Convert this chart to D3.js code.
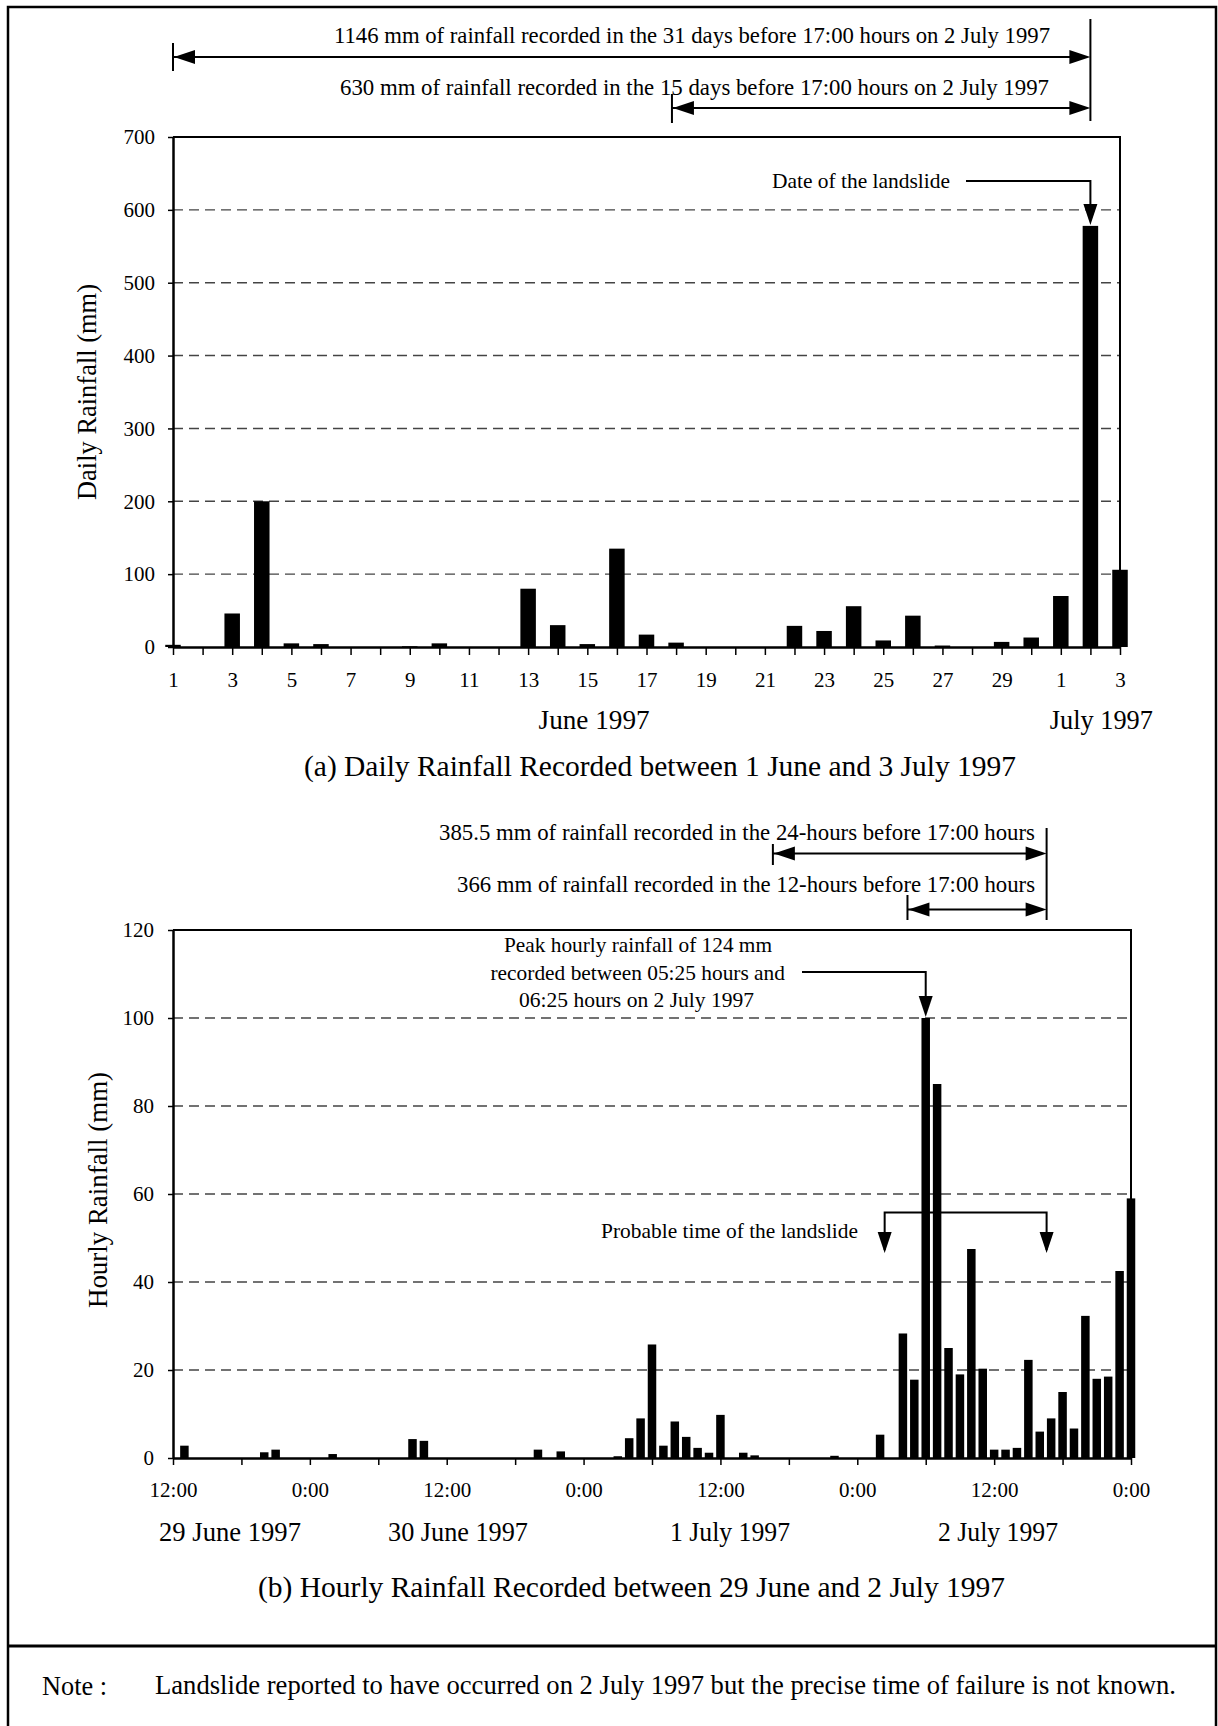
<!DOCTYPE html>
<html><head><meta charset="utf-8">
<script src="https://cdn.jsdelivr.net/npm/d3@7"></script>
<style>
body{margin:0;background:#fff}
svg{display:block}
text{font-family:"Liberation Serif","Times New Roman",serif;fill:#000}
</style>
</head><body>
<svg id="c" width="1218" height="1726"></svg>
<script>
// ---------------- DATA ----------------
const dayLabels = ["1","2","3","4","5","6","7","8","9","10","11","12","13","14","15","16","17","18","19","20",
  "21","22","23","24","25","26","27","28","29","30","1","2","3"];
const dailyRainfall = [3,0,46,200,5,4,0,0,1,5,0,0,80,30,4,135,17,6,0,0,0,29,22,56,9,43,2,0,7,13,70,578,106];
const dailyTicks = [0,100,200,300,400,500,600,700];
const monthLabels = ["June 1997","July 1997"];

// hours from 12:00 on 29 June 1997 (0) to 0:00 on 3 July 1997 (84)
const hourlyRainfall = [
  0,2.8,0,0,0,0,0,0,1.3,1.9,0,0,            // 12:00-23:00 29 Jun
  0,0,0.9,0,0,0,0,0,0,4.3,3.9,0,            // 0:00-11:00 30 Jun
  0,0,0,0,0,0,0,0,1.9,0,1.5,0,              // 12:00-23:00 30 Jun
  0,0,0,0.4,4.5,9.0,25.8,2.8,8.3,4.8,2.3,1.2, // 0:00-11:00 1 Jul
  9.8,0,1.2,0.6,0,0,0,0,0,0,0.5,0,          // 12:00-23:00 1 Jul
  0,0,5.3,0,28.3,17.8,100,85,25,19,47.5,20.3, // 0:00-11:00 2 Jul
  1.9,1.9,2.3,22.3,6,9,15,6.7,32.3,18,18.5,42.5, // 12:00-23:00 2 Jul
  59                                         // 0:00 3 Jul
];
const hourlyTicks = [0,20,40,60,80,100,120];
const hourTickLabels = ["12:00","0:00"];
const dateLabels = ["29 June 1997","30 June 1997","1 July 1997","2 July 1997"];

const texts = {
  top31: "1146 mm of rainfall recorded in the 31 days before 17:00 hours on 2 July 1997",
  top15: "630 mm of rainfall recorded in the 15 days before 17:00 hours on 2 July 1997",
  dateSlide: "Date of the landslide",
  yDaily: "Daily Rainfall (mm)",
  capA: "(a) Daily Rainfall Recorded between 1 June and 3 July 1997",
  h24: "385.5 mm of rainfall recorded in the 24-hours before 17:00 hours",
  h12: "366 mm of rainfall recorded in the 12-hours before 17:00 hours",
  peak: ["Peak hourly rainfall of 124 mm","recorded between 05:25 hours and","06:25 hours on 2 July 1997"],
  probable: "Probable time of the landslide",
  yHourly: "Hourly Rainfall (mm)",
  capB: "(b) Hourly Rainfall Recorded between 29 June and 2 July 1997",
  noteHead: "Note :",
  note: "Landslide reported to have occurred on 2 July 1997 but the precise time of failure is not known."
};

// ---------------- HELPERS ----------------
const svg = d3.select("#c");
svg.append("rect").attr("width",1218).attr("height",1726).attr("fill","#fff");

function txt(g, s, x, y, size, len, anchor){
  const t = g.append("text").attr("x",x).attr("y",y).attr("font-size",size)
    .attr("text-anchor",anchor||"start").text(s);
  if (len) t.attr("textLength",len).attr("lengthAdjust","spacingAndGlyphs");
  return t;
}
function line(g, pts, w){
  return g.append("path").attr("d", d3.line()(pts)).attr("fill","none")
    .attr("stroke","#000").attr("stroke-width", w||2);
}
function head(g, x, y, dir){
  const L = 21, W = 7;
  let p;
  if (dir==="right") p = [[x,y],[x-L,y-W],[x-L,y+W]];
  else if (dir==="left") p = [[x,y],[x+L,y-W],[x+L,y+W]];
  else p = [[x,y],[x-W,y-L],[x+W,y-L]];
  g.append("path").attr("d", d3.line()(p)+"Z").attr("fill","#000");
}

// ---------------- OUTER FRAME ----------------
const fr = svg.append("g");
line(fr, [[8,1726],[8,7],[1216,7],[1216,1726]], 2.5);
line(fr, [[8,1646],[1216,1646]], 3);

// ---------------- CHART (a) DAILY ----------------
const gA = svg.append("g");
const xD = d3.scaleLinear().domain([0, dailyRainfall.length-1]).range([173,1120]);
const yD = d3.scaleLinear().domain([0,700]).range([647,137]);

// gridlines
gA.selectAll("line.grid").data(dailyTicks.filter(v=>v>0 && v<700)).enter().append("line")
  .attr("x1",xD(0)).attr("x2",xD(dailyRainfall.length-1))
  .attr("y1",d=>yD(d)).attr("y2",d=>yD(d))
  .attr("stroke","#444").attr("stroke-width",1.4).attr("stroke-dasharray","10,6");
// frame top/right
line(gA, [[xD(0),yD(700)],[xD(32),yD(700)],[xD(32),yD(0)]], 2);
// bars
gA.selectAll("rect.bar").data(dailyRainfall).enter().append("rect")
  .attr("x",(d,i)=>xD(i)-7.75).attr("width",15.5)
  .attr("y",d=>yD(d)).attr("height",d=>yD(0)-yD(d)).attr("fill","#000");
// axes
const axA_y = gA.append("g").attr("transform",`translate(${xD(0)},0)`)
  .call(d3.axisLeft(yD).tickValues(dailyTicks).tickSize(5).tickSizeOuter(0).tickPadding(13).tickFormat(d3.format("d")));
const axA_x = gA.append("g").attr("transform",`translate(0,${yD(0)})`)
  .call(d3.axisBottom(xD).tickValues(d3.range(dailyRainfall.length)).tickSize(8).tickSizeOuter(0).tickPadding(17)
    .tickFormat(i => i%2===0 ? dayLabels[i] : ""));
[axA_y, axA_x].forEach(a=>{
  a.select(".domain").attr("stroke","#000").attr("stroke-width",2.5);
  a.selectAll(".tick line").attr("stroke","#000").attr("stroke-width",1.5);
  a.selectAll("text").attr("font-size",21).attr("font-family",'"Liberation Serif",serif').attr("fill","#000");
});
// month labels
txt(gA, monthLabels[0], xD(14.23), 729, 26.8, 111, "middle");
txt(gA, monthLabels[1], xD(31.37), 729, 26.8, 103, "middle");
// y title
txt(gA, texts.yDaily, 0, 0, 26.5, 216, "middle")
  .attr("transform","translate(87,392) rotate(-90)").attr("dominant-baseline","central");
// caption
txt(gA, texts.capA, 304, 776, 29.5, 712);

// annotations above
line(gA, [[xD(31),19],[xD(31),121]], 2);
txt(gA, texts.top31, 334, 43, 22.7, 716);
line(gA, [[xD(0),57],[xD(31)-10,57]], 2.2);
line(gA, [[xD(0),43],[xD(0),71]], 2);
head(gA, xD(0)+1, 57, "left"); head(gA, xD(31), 57, "right");
txt(gA, texts.top15, 340, 95, 22.7, 709);
line(gA, [[xD(16.86),108],[xD(31)-10,108]], 2.2);
line(gA, [[xD(16.86),94],[xD(16.86),123]], 2);
head(gA, xD(16.86)+1, 108, "left"); head(gA, xD(31), 108, "right");
// date of the landslide
txt(gA, texts.dateSlide, 772, 188, 21.4, 178);
line(gA, [[966,181],[xD(31),181],[xD(31),yD(dailyRainfall[31])-12]], 2);
head(gA, xD(31), yD(dailyRainfall[31])-1, "down");

// ---------------- CHART (b) HOURLY ----------------
const gB = svg.append("g");
const xH = d3.scaleLinear().domain([0, hourlyRainfall.length-1]).range([173,1131]);
const yH = d3.scaleLinear().domain([0,120]).range([1458,930]);

gB.selectAll("line.grid").data(hourlyTicks.filter(v=>v>0 && v<120)).enter().append("line")
  .attr("x1",xH(0)).attr("x2",xH(84))
  .attr("y1",d=>yH(d)).attr("y2",d=>yH(d))
  .attr("stroke","#444").attr("stroke-width",1.4).attr("stroke-dasharray","10,6");
line(gB, [[xH(0),yH(120)],[xH(84),yH(120)],[xH(84),yH(0)]], 2);
gB.selectAll("rect.bar").data(hourlyRainfall).enter().append("rect")
  .attr("x",(d,i)=>xH(i)-4.25).attr("width",8.5)
  .attr("y",d=>yH(d)).attr("height",d=>yH(0)-yH(d)).attr("fill","#000");
const axB_y = gB.append("g").attr("transform",`translate(${xH(0)},0)`)
  .call(d3.axisLeft(yH).tickValues(hourlyTicks).tickSize(5).tickSizeOuter(0).tickPadding(14).tickFormat(d3.format("d")));
const axB_x = gB.append("g").attr("transform",`translate(0,${yH(0)})`)
  .call(d3.axisBottom(xH).tickValues(d3.range(0,85,6)).tickSize(7).tickSizeOuter(0).tickPadding(17)
    .tickFormat(h => h%12===0 ? hourTickLabels[(h/12)%2] : ""));
[axB_y, axB_x].forEach(a=>{
  a.select(".domain").attr("stroke","#000").attr("stroke-width",2.5);
  a.selectAll(".tick line").attr("stroke","#000").attr("stroke-width",1.5);
  a.selectAll("text").attr("font-size",21).attr("font-family",'"Liberation Serif",serif').attr("fill","#000");
});
// date labels
const dateStarts = [159,388,670,938], dateWidths = [142,140,120,120];
dateLabels.forEach((s,i)=> txt(gB, s, dateStarts[i], 1541, 26.6, dateWidths[i]));
// y title
txt(gB, texts.yHourly, 0, 0, 26.5, 236, "middle")
  .attr("transform","translate(98,1190) rotate(-90)").attr("dominant-baseline","central");
// caption
txt(gB, texts.capB, 258, 1597, 29.5, 747);

// annotations above chart b
const h17 = 76.6, h24s = 52.6, h12s = 64.4;
line(gB, [[xH(h17),828],[xH(h17),920]], 2);
txt(gB, texts.h24, 439, 840, 22.7, 596);
line(gB, [[xH(h24s),853.5],[xH(h17)-10,853.5]], 2.2);
line(gB, [[xH(h24s),844],[xH(h24s),865]], 2);
head(gB, xH(h24s)+1, 853.5, "left"); head(gB, xH(h17), 853.5, "right");
txt(gB, texts.h12, 457, 892, 22.7, 578);
line(gB, [[xH(h12s),909.5],[xH(h17)-10,909.5]], 2.2);
line(gB, [[xH(h12s),895],[xH(h12s),920]], 2);
head(gB, xH(h12s)+1, 909.5, "left"); head(gB, xH(h17), 909.5, "right");

// peak annotation
const peakStarts = [504,490.5,519], peakW = [268,294.5,235], peakY = [952,980,1007];
texts.peak.forEach((s,i)=> txt(gB, s, peakStarts[i], peakY[i], 21.5, peakW[i]));
line(gB, [[802,972],[xH(66),972],[xH(66),yH(hourlyRainfall[66])-12]], 2);
head(gB, xH(66), yH(hourlyRainfall[66])-1, "down");

// probable time
const hp1 = 62.4, hp2 = 76.6;
txt(gB, texts.probable, 601, 1238, 21.4, 257);
line(gB, [[xH(hp1),1250],[xH(hp1),1212.5],[xH(hp2),1212.5],[xH(hp2),1250]], 2);
head(gB, xH(hp1), 1253, "down"); head(gB, xH(hp2), 1253, "down");

// ---------------- NOTE ----------------
txt(svg, texts.noteHead, 42, 1695, 26.3, 65);
txt(svg, texts.note, 155, 1694, 26.3, 1021);
</script>
</body></html>
